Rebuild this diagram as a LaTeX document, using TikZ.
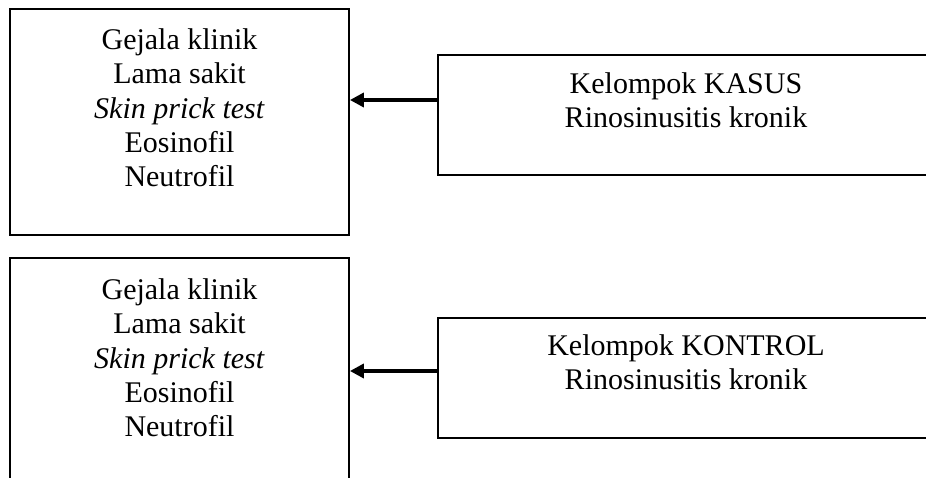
\documentclass[tikz,border=0pt]{standalone}
\usepackage{fontspec}
\setmainfont{Liberation Serif}
\usetikzlibrary{arrows.meta}
\begin{document}
\begin{tikzpicture}[x=1pt,y=-1pt,
  box/.style={draw, line width=1.8pt, rectangle, inner sep=0pt},
  boxtext/.style={anchor=north, inner sep=0pt, align=center,
    font=\fontsize{30}{34.3}\selectfont},
  link/.style={line width=3.5pt, -{Triangle[length=14pt,width=14pt]}}]
\useasboundingbox (0,0) rectangle (926,478);
\clip (0,0) rectangle (926,478);

% left column: variables measured in each group
\node[box, minimum width=339pt, minimum height=226pt] (kasusVar) at (179.5,122) {};
\node[box, minimum width=339pt, minimum height=242pt] (kontrolVar) at (179.5,379) {};

% right column: the two study groups
\node[box, minimum width=496pt, minimum height=120pt] (kasus) at (686,115) {};
\node[box, minimum width=496pt, minimum height=120pt] (kontrol) at (686,378) {};

% texts
\node[boxtext] (kasusVarText) at (179.5,28.5)
  {Gejala klinik\\Lama sakit\\\textit{Skin prick test}\\Eosinofil\\Neutrofil};
\node[boxtext] (kontrolVarText) at (179.5,278.5)
  {Gejala klinik\\Lama sakit\\\textit{Skin prick test}\\Eosinofil\\Neutrofil};
\node[boxtext] (kasusText) at (686,72.5)
  {Kelompok KASUS\\Rinosinusitis kronik};
\node[boxtext] (kontrolText) at (686,334.5)
  {Kelompok KONTROL\\Rinosinusitis kronik};

% arrows from each group to its variables
\coordinate (kasusOut) at ([yshift=15pt]kasus.west);
\coordinate (kontrolOut) at ([yshift=7pt]kontrol.west);
\draw[link] (kasusOut) -- (kasusOut -| kasusVar.east);
\draw[link] (kontrolOut) -- (kontrolOut -| kontrolVar.east);
\end{tikzpicture}
\end{document}
